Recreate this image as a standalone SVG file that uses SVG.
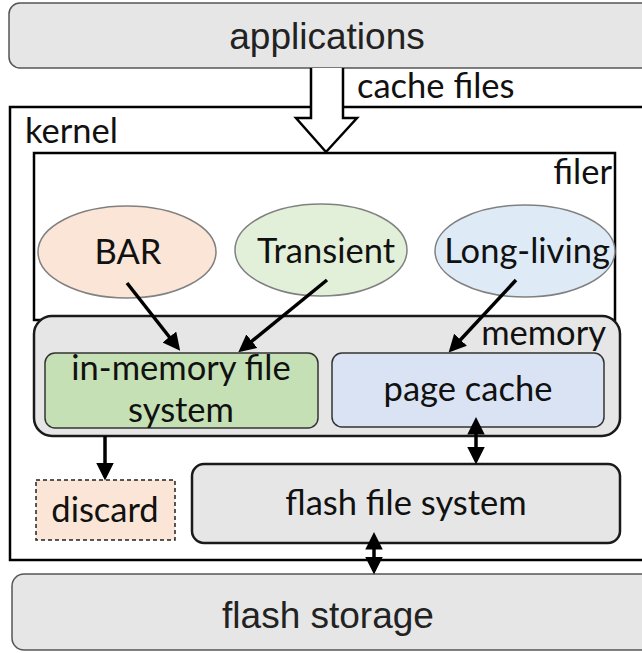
<svg xmlns="http://www.w3.org/2000/svg" width="642" height="653" viewBox="0 0 642 653">
<style>
.box{fill:#e6e6e6;stroke:#1a1a1a;stroke-width:2.5}
.lbl{font-family:Lato,"Liberation Sans",sans-serif;fill:#111;font-size:34.5px}
.ar{font-family:"Liberation Sans",Arial,sans-serif;fill:#222;font-size:37px}
.ell{stroke:#808080;stroke-width:1.5}
.con{stroke:#000;stroke-width:3.5;fill:none}
</style>
<defs>
<marker id="ah" markerWidth="5" markerHeight="5" refX="4" refY="2.5" orient="auto" markerUnits="strokeWidth">
<path d="M0,0 L5,2.5 L0,5 z" fill="#000"/>
</marker>
<marker id="ahs" markerWidth="5" markerHeight="5" refX="1" refY="2.5" orient="auto-start-reverse" markerUnits="strokeWidth">
<path d="M0,0 L5,2.5 L0,5 z" fill="#000"/>
</marker>
</defs>
<g id="applications">
<rect x="9" y="3" width="645" height="65" rx="11" fill="#e6e6e6" stroke="#555" stroke-width="1.5"/>
<text class="ar" x="327" y="49" text-anchor="middle">applications</text>
</g>
<g id="kernel">
<rect x="10" y="107" width="640" height="453" fill="#fff" stroke="#000" stroke-width="2.5"/>
<text class="lbl" x="25" y="143">kernel</text>
</g>
<g id="filer">
<rect x="34" y="153" width="581" height="167" fill="#fff" stroke="#000" stroke-width="2.5"/>
<text class="lbl" x="612" y="184" text-anchor="end">filer</text>
</g>
<g id="bar">
<ellipse class="ell" cx="127" cy="252" rx="89" ry="46" fill="#fbe5d6"/>
<text class="lbl" x="128" y="264" text-anchor="middle">BAR</text>
</g>
<g id="transient">
<ellipse class="ell" cx="321" cy="250" rx="86" ry="46" fill="#e2f0d9"/>
<text class="lbl" x="326" y="263" text-anchor="middle">Transient</text>
</g>
<g id="long-living">
<ellipse class="ell" cx="525" cy="251" rx="90" ry="46" fill="#deebf7"/>
<text class="lbl" x="527" y="263" text-anchor="middle">Long-living</text>
</g>
<g id="memory">
<rect class="box" x="34" y="316" width="586" height="120" rx="18"/>
<text class="lbl" x="606" y="345" text-anchor="end">memory</text>
</g>
<g id="in-memory-fs">
<rect x="45" y="353" width="273" height="75" rx="10" fill="#c5e0b4" stroke="#333" stroke-width="1.5"/>
<text class="lbl" x="181" y="380" text-anchor="middle">in-memory file</text>
<text class="lbl" x="181" y="422" text-anchor="middle">system</text>
</g>
<g id="page-cache">
<rect x="332" y="353" width="272" height="74" rx="10" fill="#dae3f3" stroke="#333" stroke-width="1.5"/>
<text class="lbl" x="468" y="401" text-anchor="middle">page cache</text>
</g>
<g id="discard">
<rect x="36" y="480" width="139" height="60" fill="#fbe5d6" stroke="#222" stroke-width="1.5" stroke-dasharray="4,3"/>
<text class="lbl" x="105" y="522" text-anchor="middle">discard</text>
</g>
<g id="flash-fs">
<rect class="box" x="192" y="464" width="428" height="79" rx="12"/>
<text class="lbl" x="406" y="515" text-anchor="middle">flash file system</text>
</g>
<g id="flash-storage">
<rect x="12" y="574" width="642" height="76" rx="12" fill="#e6e6e6" stroke="#555" stroke-width="1.5"/>
<text class="ar" x="328" y="628" text-anchor="middle">flash storage</text>
</g>
<g id="connectors">
<path d="M311,68 L311,118 L296,118 L326,152 L357,118 L343,118 L343,68" fill="#fff" stroke="#000" stroke-width="2.5" stroke-linejoin="miter"/>
<text class="lbl" x="357" y="98">cache files</text>
<line class="con" x1="127" y1="283" x2="178" y2="348" marker-end="url(#ah)"/>
<line class="con" x1="327" y1="280" x2="241" y2="350" marker-end="url(#ah)"/>
<line class="con" x1="516" y1="280" x2="451" y2="350" marker-end="url(#ah)"/>
<line class="con" x1="105" y1="436" x2="105" y2="477" marker-end="url(#ah)"/>
<line class="con" x1="476" y1="431" x2="476" y2="461" marker-start="url(#ahs)" marker-end="url(#ah)"/>
<line class="con" x1="374" y1="546" x2="374" y2="571" marker-start="url(#ahs)" marker-end="url(#ah)"/>
</g>
</svg>
